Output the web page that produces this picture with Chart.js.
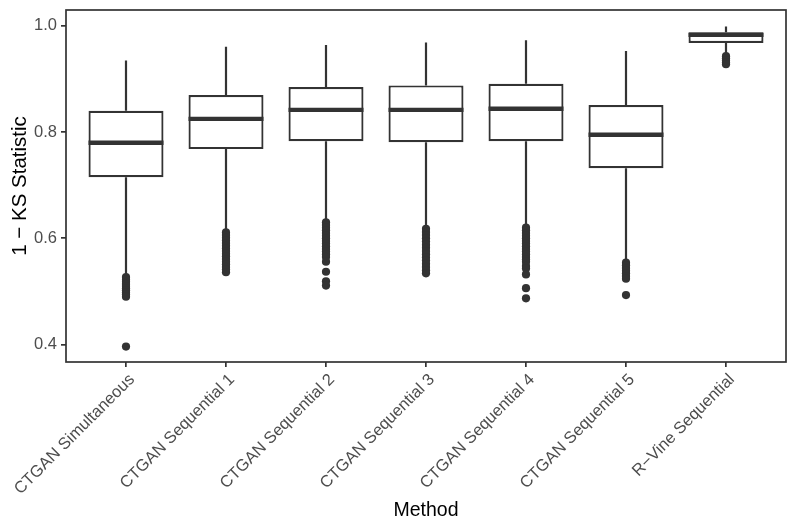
<!DOCTYPE html>
<html>
<head>
<meta charset="utf-8">
<script src="https://cdn.jsdelivr.net/npm/chart.js@4.4.1/dist/chart.umd.min.js"></script>
<style>
  html, body { margin: 0; padding: 0; background: #fff; }
  #wrap { width: 797px; height: 532px; }
</style>
</head>
<body>
<div id="wrap"><canvas id="ksChart"></canvas></div>
<script>
const methods = ['CTGAN Simultaneous', 'CTGAN Sequential 1', 'CTGAN Sequential 2', 'CTGAN Sequential 3',
                 'CTGAN Sequential 4', 'CTGAN Sequential 5', 'R\u2212Vine Sequential'];
const q1 = [0.715, 0.768, 0.783, 0.781, 0.783, 0.732, 0.968];
const median = [0.780, 0.825, 0.842, 0.842, 0.844, 0.795, 0.983];
const q3 = [0.840, 0.870, 0.885, 0.888, 0.891, 0.851, 0.988];
const whiskerLow = [0.530, 0.614, 0.633, 0.621, 0.623, 0.556, 0.947];
const whiskerHigh = [0.935, 0.961, 0.964, 0.969, 0.973, 0.953, 0.999];
const outliers = [
  [0.527, 0.522, 0.518, 0.514, 0.510, 0.506, 0.502, 0.498, 0.494, 0.490, 0.396],
  [0.611, 0.606, 0.601, 0.596, 0.591, 0.586, 0.581, 0.576, 0.571, 0.566, 0.561, 0.556, 0.551, 0.546, 0.541, 0.536],
  [0.630, 0.625, 0.620, 0.615, 0.610, 0.605, 0.600, 0.595, 0.590, 0.585, 0.580, 0.575, 0.570, 0.565, 0.556, 0.537, 0.519, 0.511],
  [0.618, 0.612, 0.606, 0.600, 0.594, 0.588, 0.582, 0.576, 0.570, 0.564, 0.558, 0.552, 0.546, 0.540, 0.534],
  [0.620, 0.615, 0.610, 0.605, 0.600, 0.595, 0.590, 0.585, 0.580, 0.575, 0.570, 0.565, 0.560, 0.556, 0.548, 0.543, 0.532, 0.506, 0.487],
  [0.554, 0.549, 0.544, 0.539, 0.534, 0.529, 0.524, 0.493],
  [0.943, 0.939, 0.935, 0.931, 0.928]
];
const yTicks = [0.4, 0.6, 0.8, 1.0];

const ink = '#333333';
const fontFamily = "'Liberation Sans', Arial, Helvetica, sans-serif";

const boxData = methods.map((m, i) => ({ x: i + 1, y: [q1[i], q3[i]] }));
const pointData = [];
outliers.forEach((list, i) => list.forEach(v => pointData.push({ x: i + 1, y: v })));

// whiskers, medians and the panel border
const boxExtras = {
  id: 'boxExtras',
  afterDatasetsDraw(chart) {
    const ctx = chart.ctx;
    const y = chart.scales.y;
    const meta = chart.getDatasetMeta(0);
    ctx.save();
    ctx.strokeStyle = ink;
    meta.data.forEach((bar, i) => {
      ctx.lineWidth = 2.2;
      ctx.beginPath();
      ctx.moveTo(bar.x, y.getPixelForValue(q3[i]));
      ctx.lineTo(bar.x, y.getPixelForValue(whiskerHigh[i]));
      ctx.moveTo(bar.x, y.getPixelForValue(q1[i]));
      ctx.lineTo(bar.x, y.getPixelForValue(whiskerLow[i]));
      ctx.stroke();
      ctx.lineWidth = 4.3;
      ctx.beginPath();
      ctx.moveTo(bar.x - bar.width / 2, y.getPixelForValue(median[i]));
      ctx.lineTo(bar.x + bar.width / 2, y.getPixelForValue(median[i]));
      ctx.stroke();
    });
    const a = chart.chartArea;
    ctx.lineWidth = 1.7;
    ctx.strokeRect(a.left, a.top, a.right - a.left, a.bottom - a.top);
    ctx.restore();
  }
};

new Chart(document.getElementById('ksChart').getContext('2d'), {
  type: 'bar',
  data: {
    datasets: [{
      type: 'bar',
      data: boxData,
      backgroundColor: '#ffffff',
      borderColor: ink,
      borderWidth: 2.2,
      borderSkipped: false,
      categoryPercentage: 1,
      barPercentage: 0.75,
      order: 2
    }, {
      type: 'scatter',
      data: pointData,
      backgroundColor: ink,
      borderWidth: 0,
      pointRadius: 4.1,
      order: 1
    }]
  },
  options: {
    responsive: true,
    maintainAspectRatio: false,
    animation: false,
    layout: { padding: { top: 10, right: 11, left: 2, bottom: 0 } },
    plugins: {
      legend: { display: false },
      tooltip: { enabled: false }
    },
    scales: {
      x: {
        type: 'linear',
        min: 0.4,
        max: 7.6,
        offset: false,
        afterBuildTicks: s => { s.ticks = methods.map((m, i) => ({ value: i + 1 })); },
        afterFit: s => { s.height = 170; s.paddingLeft = 0; s.paddingRight = 0; },
        ticks: {
          callback: v => methods[v - 1],
          minRotation: 45,
          maxRotation: 45,
          autoSkip: false,
          labelOffset: 6,
          color: '#4D4D4D',
          padding: 3,
          font: { family: fontFamily, size: 16.5 }
        },
        grid: { offset: false, drawOnChartArea: false, tickLength: 5, tickColor: ink, lineWidth: 1.7 },
        border: { display: false },
        title: {
          display: true,
          text: 'Method',
          color: '#000',
          padding: { top: 0, bottom: 10 },
          font: { family: fontFamily, size: 19.5 }
        }
      },
      y: {
        min: 0.367,
        max: 1.03,
        afterBuildTicks: s => { s.ticks = yTicks.map(v => ({ value: v })); },
        afterFit: s => { s.width = 64; s.paddingTop = 0; s.paddingBottom = 0; },
        ticks: {
          callback: v => v.toFixed(1),
          color: '#4D4D4D',
          padding: 4,
          font: { family: fontFamily, size: 16.5 }
        },
        grid: { drawOnChartArea: false, tickLength: 5, tickColor: ink, lineWidth: 1.7 },
        border: { display: false },
        title: {
          display: true,
          text: '1 \u2212 KS Statistic',
          color: '#000',
          padding: { top: 6, bottom: 4 },
          font: { family: fontFamily, size: 20.5 }
        }
      }
    }
  },
  plugins: [boxExtras]
});
</script>
</body>
</html>
